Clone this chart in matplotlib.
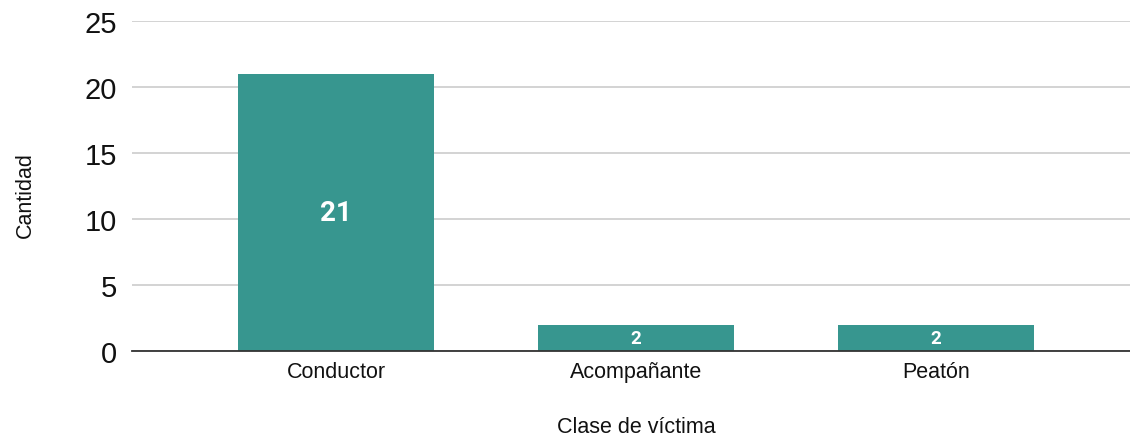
import matplotlib
matplotlib.use("Agg")
import matplotlib.pyplot as plt

categories = ["Conductor", "Acompañante", "Peatón"]
values = [21, 2, 2]
label_sizes = [20, 13.5, 13.5]

color = "#37968f"

plt.rcParams["font.family"] = ["Liberation Sans", "DejaVu Sans"]

fig = plt.figure(figsize=(11.3, 4.39), dpi=100)
ax = fig.add_axes([0.1168, 0.198, 0.8832, 0.7517])

x = list(range(len(categories)))
bars = ax.bar(x, values, width=0.653, color=color, zorder=3)

for b, v, s in zip(bars, values, label_sizes):
    ax.text(b.get_x() + b.get_width() / 2, v / 2, str(v), ha="center", va="center",
            color="white", fontsize=s, fontweight="bold", family=["Roboto", "DejaVu Sans"],
            zorder=4)

ax.set_xlim(-0.68, 2.647)
ax.set_ylim(0, 25)
ax.set_yticks([0, 5, 10, 15, 20, 25])
ax.set_xticks(x)
ax.set_xticklabels(categories, fontsize=15.5, color="#111111")
ax.tick_params(axis="y", labelsize=21, length=0, pad=11, labelcolor="#111111")
ax.tick_params(axis="x", length=0, pad=7)
ax.grid(axis="y", color="#cccccc", linewidth=1.2, zorder=0)
for side in ["top", "right", "left"]:
    ax.spines[side].set_visible(False)
ax.spines["bottom"].set_color("#333333")
ax.spines["bottom"].set_linewidth(1.3)
ax.spines["bottom"].set_zorder(5)

fig.text(636 / 1130, 1 - 428 / 439, "Clase de víctima", ha="center", va="center",
         fontsize=15.5, color="#111111")
fig.text(25 / 1130, 1 - 195 / 439, "Cantidad", ha="center", va="center",
         rotation=90, fontsize=15.5, color="#111111")

fig.savefig("out.png", dpi=100, facecolor="white")
